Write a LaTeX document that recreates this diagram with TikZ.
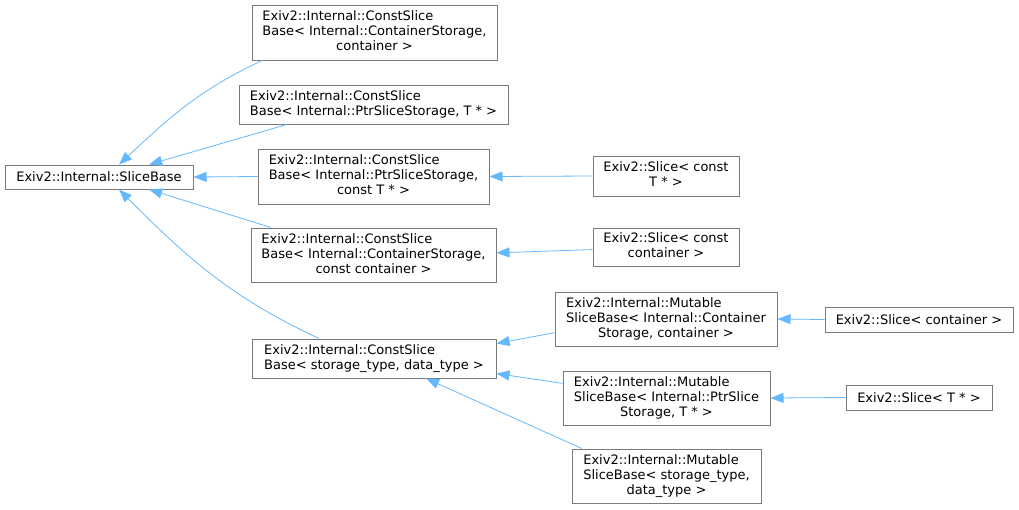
\documentclass[tikz,border=0pt]{standalone}
\usepackage{fontspec}
\setmainfont{DejaVu Sans}
\usetikzlibrary{arrows.meta}
\definecolor{edgeblue}{HTML}{63B8FF}
\definecolor{frame}{HTML}{7A7A7A}
% class label: leading lines flush left, last line centred
\newcommand{\clsname}[2]{\begin{tabular}{@{}l@{}}#1\\\multicolumn{1}{@{}c@{}}{#2}\end{tabular}}
\tikzset{
  klass/.style={draw=frame, line width=1pt, fill=white, inner sep=0pt,
    font=\fontsize{13}{15}\selectfont},
  inherit/.style={-{Triangle[length=13pt,width=10pt]}, line width=.8pt, draw=edgeblue}
}
\begin{document}
\begin{tikzpicture}[x=1pt,y=1pt]
  \useasboundingbox (0,0) rectangle (1019,-509);

  \node[klass,minimum width=188pt,minimum height=24pt] (base) at (99,-177)
    {Exiv2::Internal::SliceBase};

  \node[klass,minimum width=245pt,minimum height=55pt] (csCont) at (374.5,-32.5)
    {\clsname{Exiv2::Internal::ConstSlice\\Base< Internal::ContainerStorage,}{container >}};
  \node[klass,minimum width=269pt,minimum height=39pt] (csPtr) at (373.5,-104.5)
    {\clsname{Exiv2::Internal::ConstSlice}{Base< Internal::PtrSliceStorage, T * >}};
  \node[klass,minimum width=231pt,minimum height=55pt] (csConstPtr) at (373.5,-176.5)
    {\clsname{Exiv2::Internal::ConstSlice\\Base< Internal::PtrSliceStorage,}{const T * >}};
  \node[klass,minimum width=245pt,minimum height=54pt] (csConstCont) at (373.5,-255)
    {\clsname{Exiv2::Internal::ConstSlice\\Base< Internal::ContainerStorage,}{const container >}};
  \node[klass,minimum width=244pt,minimum height=39pt] (csGeneric) at (374,-358.5)
    {\clsname{Exiv2::Internal::ConstSlice}{Base< storage\_type, data\_type >}};

  \node[klass,minimum width=146pt,minimum height=40pt] (sliceConstPtr) at (666,-176)
    {\clsname{Exiv2::Slice< const}{T * >}};
  \node[klass,minimum width=146pt,minimum height=38pt] (sliceConstCont) at (666,-247)
    {\clsname{Exiv2::Slice< const}{container >}};
  \node[klass,minimum width=222pt,minimum height=54pt] (mutCont) at (666,-319)
    {\clsname{Exiv2::Internal::Mutable\\SliceBase< Internal::Container}{Storage, container >}};
  \node[klass,minimum width=207pt,minimum height=54pt] (mutPtr) at (666.5,-398)
    {\clsname{Exiv2::Internal::Mutable\\SliceBase< Internal::PtrSlice}{Storage, T * >}};
  \node[klass,minimum width=189pt,minimum height=54pt] (mutGeneric) at (666.5,-476)
    {\clsname{Exiv2::Internal::Mutable\\SliceBase< storage\_type,}{data\_type >}};

  \node[klass,minimum width=188pt,minimum height=25pt] (sliceCont) at (919,-319.5)
    {Exiv2::Slice< container >};
  \node[klass,minimum width=146pt,minimum height=25pt] (slicePtr) at (919,-397.5)
    {Exiv2::Slice< T * >};

  % inheritance arrows point at the base class
  \draw[inherit] (csCont.194) to[out=205,in=43] (base.32);
  \draw[inherit] (csPtr.193) -- (base.14);
  \draw[inherit] (csConstPtr.west) -- (base.east);
  \draw[inherit] (csConstCont.165) -- (base.-14);
  \draw[inherit] (csGeneric.160) to[out=155,in=-45] (base.-32);

  \draw[inherit] (sliceConstPtr.west) -- (csConstPtr.east);
  \draw[inherit] (sliceConstCont.182) -- (csConstCont.1.4);
  \draw[inherit] (mutCont.187.7) -- (csGeneric.7.7);
  \draw[inherit] (mutPtr.172.8) -- (csGeneric.-7.2);
  \draw[inherit] (mutGeneric.162) -- (csGeneric.-21);

  \draw[inherit] (sliceCont.west) -- (mutCont.east);
  \draw[inherit] (slicePtr.west) -- (mutPtr.east);
\end{tikzpicture}
\end{document}
